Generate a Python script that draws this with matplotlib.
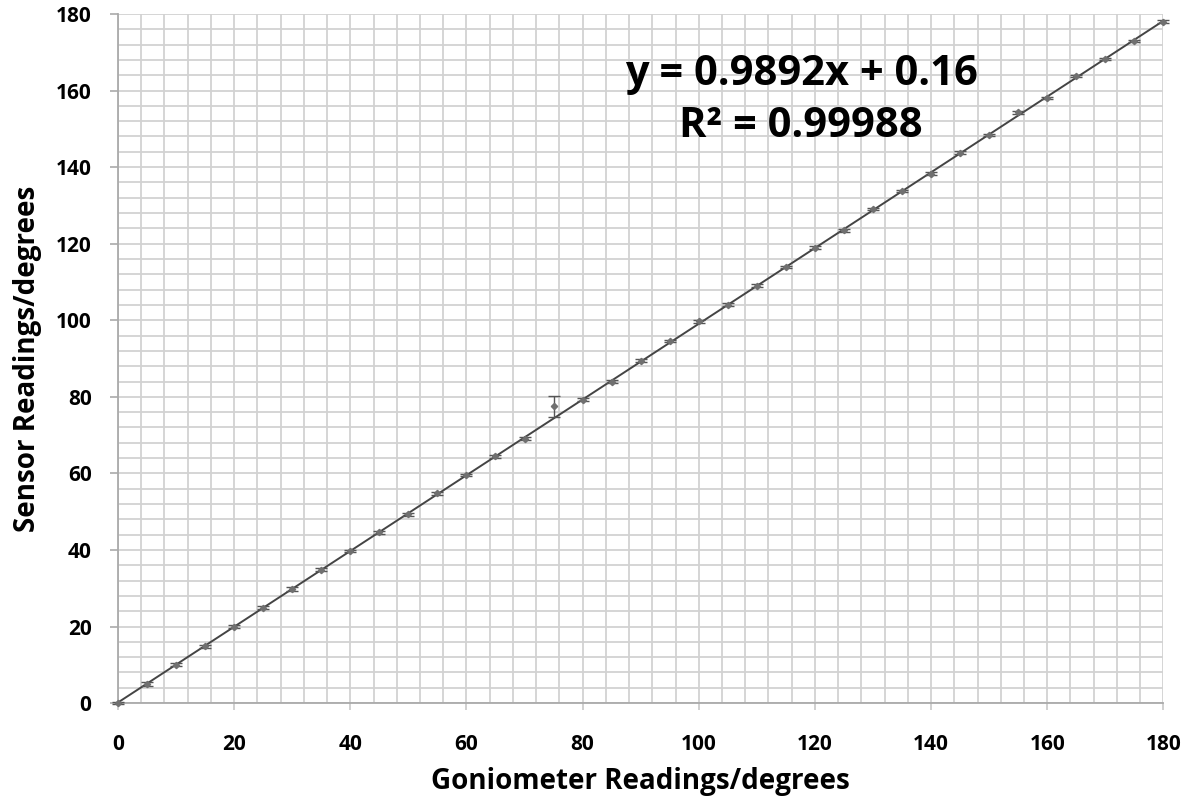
import matplotlib
matplotlib.use("Agg")
import matplotlib.pyplot as plt
import numpy as np
from matplotlib.ticker import MultipleLocator

goniometer = [0, 5, 10, 15, 20, 25, 30, 35, 40, 45, 50, 55, 60, 65, 70, 75, 80, 85, 90,
              95, 100, 105, 110, 115, 120, 125, 130, 135, 140, 145, 150, 155, 160, 165,
              170, 175, 180]
sensor = [0.0, 5.0, 10.0, 14.8, 20.0, 24.9, 29.8, 34.9, 39.8, 44.6, 49.3, 54.8, 59.5,
          64.5, 69.0, 77.5, 79.3, 84.0, 89.4, 94.5, 99.8, 104.0, 109.0, 114.0, 119.0,
          123.5, 129.0, 133.8, 138.3, 143.8, 148.3, 154.3, 158.0, 163.8, 168.3, 173.0,
          178.0]
sensor_err = [0.3, 0.4, 0.4, 0.4, 0.3, 0.4, 0.4, 0.4, 0.3, 0.4, 0.4, 0.4, 0.3, 0.4, 0.4,
              2.7, 0.4, 0.4, 0.4, 0.3, 0.4, 0.4, 0.4, 0.3, 0.4, 0.4, 0.3, 0.3, 0.3, 0.3,
              0.3, 0.3, 0.3, 0.3, 0.3, 0.3, 0.3]
slope, intercept = 0.9892, 0.16
equation_line = "y = 0.9892x + 0.16"
r2_line = "R² = 0.99988"

plt.rcParams['font.family'] = ['Open Sans', 'DejaVu Sans']

fig = plt.figure(figsize=(11.88, 7.99), dpi=100)
ax = fig.add_axes([0.0993, 0.120, 0.8800, 0.8625])

ax.set_xlim(0, 180)
ax.set_ylim(0, 180)
ax.xaxis.set_major_locator(MultipleLocator(20))
ax.yaxis.set_major_locator(MultipleLocator(20))
ax.xaxis.set_minor_locator(MultipleLocator(4))
ax.yaxis.set_minor_locator(MultipleLocator(4))
ax.grid(which='minor', color='#d2d2d2', linewidth=1.3, zorder=0)
ax.grid(which='major', color='#d2d2d2', linewidth=1.3, zorder=0)
ax.set_axisbelow(True)

for s in ['top', 'right']:
    ax.spines[s].set_visible(False)
for s in ['left', 'bottom']:
    ax.spines[s].set_color('#aaaaaa')
    ax.spines[s].set_linewidth(1.3)

ax.tick_params(axis='y', which='major', length=6, width=1.2, color='#aaaaaa',
               labelsize=15, pad=13)
ax.tick_params(axis='x', which='major', length=5, width=1.2, color='#c8c8c8',
               labelsize=15, pad=17)
ax.tick_params(which='minor', length=0)
for lab in ax.get_xticklabels() + ax.get_yticklabels():
    lab.set_fontweight('bold')

xs = np.array([0, 180])
ax.plot(xs, slope * xs + intercept, color='#444444', linewidth=1.4, zorder=3)

ax.errorbar(goniometer, sensor, yerr=sensor_err, fmt='D', markersize=3.2,
            color='#707070', ecolor='#555555', elinewidth=1, capsize=4,
            capthick=1, zorder=4, clip_on=False)

ax.set_xlabel('Goniometer Readings/degrees', fontsize=20, fontweight='bold', labelpad=9)
ax.set_ylabel('Sensor Readings/degrees', fontsize=20, fontweight='bold', labelpad=10)

ax.text(117.6, 161.4, equation_line, fontsize=30, fontweight='bold', ha='center',
        va='baseline', color='black', zorder=5)
ax.text(117.6, 147.9, r2_line, fontsize=30, fontweight='bold', ha='center',
        va='baseline', color='black', zorder=5)

fig.savefig('out.png', dpi=100)
